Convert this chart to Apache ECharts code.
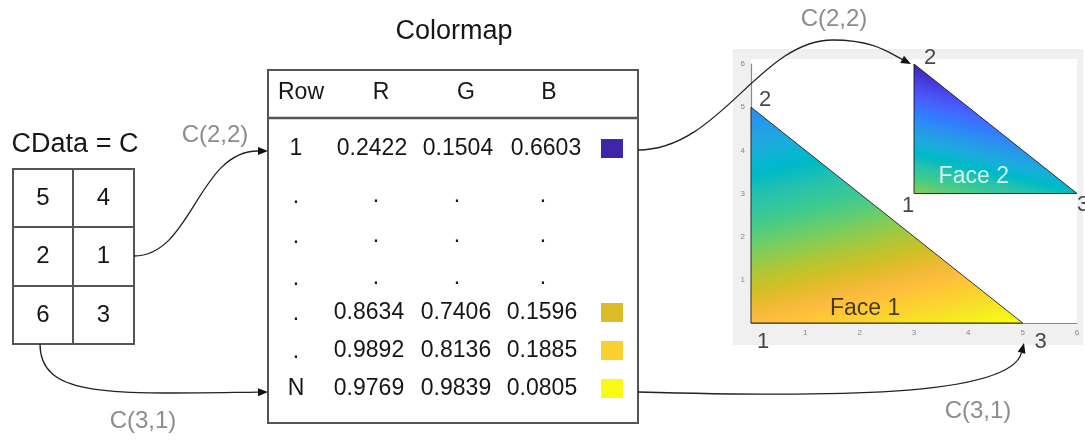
<!DOCTYPE html>
<html><head><meta charset="utf-8">
<script src="https://cdn.jsdelivr.net/npm/echarts@6/dist/echarts.min.js"></script>
<style>html,body{margin:0;padding:0;background:#fff}#chart{width:1085px;height:440px}</style>
</head><body><div id="chart"></div>
<script>
// ---------------- data ----------------
const matrixTitle = 'CData = C';
const colormapTitle = 'Colormap';
const cdataMatrix = [[5, 4], [2, 1], [6, 3]];   // rows = vertex, columns = face
const face1X = [0, 0, 5];
const face1Y = [0, 5, 0];
const face2X = [3, 3, 6];
const face2Y = [3, 6, 3];
const faceNames = ['Face 1', 'Face 2'];
const vertexNames = ['1', '2', '3'];
const tableHeaders = ['Row', 'R', 'G', 'B'];
const rowNames = ['1', '.', '.', '.', '.', '.', 'N'];
const colR = ['0.2422', '.', '.', '.', '0.8634', '0.9892', '0.9769'];
const colG = ['0.1504', '.', '.', '.', '0.7406', '0.8136', '0.9839'];
const colB = ['0.6603', '.', '.', '.', '0.1596', '0.1885', '0.0805'];
const arrowLabels = ['C(2,2)', 'C(3,1)'];
const xTickLabels = ['', '1', '2', '3', '4', '5', '6'];
const yTickLabels = ['', '1', '2', '3', '4', '5', '6'];
// position in the colormap (0..1) of each CData value 1..6, as it appears in the picture
const colormapPosition = [0, 0.3, 0.48, 0.68, 0.84, 1];
const parula = [
[0.2422,0.1504,0.6603],[0.2504,0.1650,0.7076],[0.2578,0.1818,0.7511],[0.2647,0.1978,0.7952],
[0.2706,0.2147,0.8364],[0.2751,0.2342,0.8710],[0.2783,0.2559,0.8991],[0.2803,0.2782,0.9221],
[0.2813,0.3006,0.9414],[0.2810,0.3228,0.9579],[0.2795,0.3447,0.9717],[0.2760,0.3667,0.9829],
[0.2699,0.3892,0.9906],[0.2602,0.4123,0.9952],[0.2440,0.4358,0.9988],[0.2206,0.4603,0.9973],
[0.1963,0.4847,0.9892],[0.1834,0.5074,0.9798],[0.1786,0.5289,0.9682],[0.1764,0.5499,0.9520],
[0.1687,0.5703,0.9359],[0.1540,0.5902,0.9218],[0.1460,0.6091,0.9079],[0.1380,0.6276,0.8973],
[0.1248,0.6459,0.8883],[0.1113,0.6635,0.8763],[0.0952,0.6798,0.8598],[0.0689,0.6948,0.8394],
[0.0297,0.7082,0.8163],[0.0036,0.7203,0.7917],[0.0067,0.7312,0.7660],[0.0433,0.7411,0.7394],
[0.0964,0.7500,0.7120],[0.1408,0.7584,0.6842],[0.1717,0.7670,0.6554],[0.1938,0.7758,0.6251],
[0.2161,0.7843,0.5923],[0.2470,0.7918,0.5567],[0.2906,0.7973,0.5188],[0.3406,0.8008,0.4789],
[0.3909,0.8029,0.4354],[0.4456,0.8024,0.3909],[0.5044,0.7993,0.3480],[0.5616,0.7942,0.3045],
[0.6174,0.7876,0.2612],[0.6720,0.7793,0.2227],[0.7242,0.7698,0.1910],[0.7738,0.7598,0.1646],
[0.8203,0.7498,0.1535],[0.8634,0.7406,0.1596],[0.9035,0.7330,0.1774],[0.9393,0.7288,0.2100],
[0.9728,0.7298,0.2394],[0.9956,0.7434,0.2371],[0.9970,0.7659,0.2199],[0.9952,0.7893,0.2028],
[0.9892,0.8136,0.1885],[0.9807,0.8394,0.1756],[0.9728,0.8660,0.1611],[0.9684,0.8934,0.1466],
[0.9691,0.9213,0.1287],[0.9738,0.9503,0.1024],[0.9778,0.9796,0.0728],[0.9769,0.9839,0.0805]
];

// ---------------- layout / style ----------------
const FONT = '"Liberation Sans", Arial, sans-serif';
const TXT = '#161616', GREY_TXT = '#8c8c8c', BORDER = '#555555';
const G = { left: 751, top: 64, width: 326, height: 259 };
const faceLabelAt = [[2.1, 0.33], [4.1, 3.4]];
const vertexLabelOffsets = [[[12, 19], [14, -7], [18, 19]], [[-6, 12], [16, -6], [6, 11]]];
const faceXs = [face1X, face2X], faceYs = [face1Y, face2Y];

function rgbStr(c) { return 'rgb(' + c.map(v => Math.round(v * 255)).join(',') + ')'; }
const stops = parula.map((c, i) => ({ offset: i / (parula.length - 1), color: rgbStr(c) }));

function txt(text, x, y, size, color, align) {
  return { type: 'text', x: x, y: y, z: 50,
    style: { text: text, fill: color || TXT, font: size + 'px ' + FONT,
      align: align || 'center', verticalAlign: 'middle', textAlign: align || 'center', textVerticalAlign: 'middle' } };
}
function rect(x, y, w, h, fill, stroke, lw, z) {
  return { type: 'rect', z: z == null ? 40 : z, shape: { x: x, y: y, width: w, height: h },
    style: { fill: fill || 'none', stroke: stroke || null, lineWidth: lw || 0 } };
}
function line(x1, y1, x2, y2, lw) {
  return { type: 'line', z: 41, shape: { x1: x1, y1: y1, x2: x2, y2: y2 }, style: { stroke: BORDER, lineWidth: lw || 2 } };
}
function arrow(segs) {
  const out = [];
  const last = segs[segs.length - 1];
  const tip = last[3], c2 = last[2];
  let dx = tip[0] - c2[0], dy = tip[1] - c2[1];
  const L = Math.hypot(dx, dy); dx /= L; dy /= L;
  const hl = 10, hw = 4;
  const base = [tip[0] - dx * hl, tip[1] - dy * hl];
  segs.forEach((s, i) => {
    const end = i === segs.length - 1 ? base : s[3];
    out.push({ type: 'bezierCurve', z: 60,
      shape: { x1: s[0][0], y1: s[0][1], cpx1: s[1][0], cpy1: s[1][1], cpx2: s[2][0], cpy2: s[2][1], x2: end[0], y2: end[1] },
      style: { stroke: '#222', lineWidth: 1.3, fill: null } });
  });
  out.push({ type: 'polygon', z: 61,
    shape: { points: [tip, [base[0] - dy * hw, base[1] + dx * hw], [base[0] + dy * hw, base[1] - dx * hw]] },
    style: { fill: '#111' } });
  return out;
}

const graphics = [];
graphics.push(rect(733, 49, 350, 296, '#f0f0f0', null, 0, -10));
graphics.push(rect(G.left, 59, G.width, G.top + G.height - 59, '#ffffff', null, 0, -9));
graphics.push(txt(colormapTitle, 454, 32, 27));
graphics.push(txt(matrixTitle, 75, 145, 27));
// C matrix
const mX = [13, 73, 134], mY = [169, 227, 286, 344];
graphics.push(rect(mX[0], mY[0], mX[2] - mX[0], mY[3] - mY[0], '#fff', BORDER, 2));
graphics.push(line(mX[1], mY[0], mX[1], mY[3]));
graphics.push(line(mX[0], mY[1], mX[2], mY[1]));
graphics.push(line(mX[0], mY[2], mX[2], mY[2]));
cdataMatrix.forEach((row, r) => row.forEach((v, c) => {
  graphics.push(txt(String(v), (mX[c] + mX[c + 1]) / 2, (mY[r] + mY[r + 1]) / 2, 24));
}));
// colormap table
graphics.push(rect(268, 70, 370, 353, '#fff', BORDER, 2));
graphics.push(line(268, 118, 638, 118, 2.5));
const hdrX = [301, 381, 466, 549];
tableHeaders.forEach((h, i) => graphics.push(txt(h, hdrX[i], 93, 23)));
const rowY = [149, 196, 236, 278, 313, 351, 389];
rowNames.forEach((rn, i) => {
  const isDot = rn === '.';
  graphics.push(txt(rn, 296, rowY[i] + (isDot ? 1 : 0), 23));
  const vals = [colR[i], colG[i], colB[i]];
  const numeric = vals[0] !== '.';
  const xs = i === 0 ? [372, 458, 546] : (numeric ? [369, 456, 542] : [376, 457, 543]);
  vals.forEach((v, j) => graphics.push(txt(v, xs[j], rowY[i], 23)));
  if (numeric) {
    graphics.push(rect(601, rowY[i] - 10, 22, 19, rgbStr(vals.map(Number)), null, 0, 42));
  }
});
// arrows + labels
arrow([[[134, 256], [192, 256], [198, 151], [268, 151]]]).forEach(e => graphics.push(e));
arrow([[[40, 344], [40, 398], [110, 394], [268, 392]]]).forEach(e => graphics.push(e));
arrow([[[638, 150], [720, 150], [760, 40], [833, 40]], [[833, 40], [872, 40], [888, 52], [911, 64]]]).forEach(e => graphics.push(e));
arrow([[[638, 392], [820, 397], [1010, 398], [1024, 343]]]).forEach(e => graphics.push(e));
graphics.push(txt(arrowLabels[0], 215, 135, 24, GREY_TXT));
graphics.push(txt(arrowLabels[1], 143, 421, 24, GREY_TXT));
graphics.push(txt(arrowLabels[0], 834, 19, 24, GREY_TXT));
graphics.push(txt(arrowLabels[1], 978, 411, 24, GREY_TXT));

// ---------------- series ----------------
function renderFace(params, api) {
  const f = api.value(0);
  const xs = faceXs[f], ys = faceYs[f];
  const P = [0, 1, 2].map(i => api.coord([xs[i], ys[i]]));
  const T = [0, 1, 2].map(i => colormapPosition[cdataMatrix[i][f] - 1]);
  const x21 = P[1][0] - P[0][0], y21 = P[1][1] - P[0][1];
  const x31 = P[2][0] - P[0][0], y31 = P[2][1] - P[0][1];
  const c21 = T[1] - T[0], c31 = T[2] - T[0];
  const det = x21 * y31 - y21 * x31;
  const a = (c21 * y31 - y21 * c31) / det;
  const b = (x21 * c31 - c21 * x31) / det;
  const g2 = a * a + b * b;
  const at = v => [P[0][0] + a * (v - T[0]) / g2, P[0][1] + b * (v - T[0]) / g2];
  const p0 = at(0), p1 = at(1);
  const grad = new echarts.graphic.LinearGradient(p0[0], p0[1], p1[0], p1[1], stops, true);
  return { type: 'polygon', shape: { points: P }, style: { fill: grad, stroke: 'rgba(20,20,20,0.85)', lineWidth: 1 } };
}

const vertexLabelData = [];
faceXs.forEach((xs, f) => xs.forEach((x, i) => {
  vertexLabelData.push({ value: [x, faceYs[f][i]], name: vertexNames[i],
    label: { offset: vertexLabelOffsets[f][i] } });
}));
const faceLabelData = faceNames.map((n, f) => ({ value: faceLabelAt[f], name: n,
  label: { color: f === 0 ? TXT : '#ffffff' } }));

const axisCommon = {
  type: 'value', min: 0, max: 6, interval: 1,
  axisLine: { show: true, lineStyle: { color: '#8a8a8a', width: 1.2 } },
  axisTick: { show: false }, splitLine: { show: false },
};

const chart = echarts.init(document.getElementById('chart'), null, { renderer: 'canvas' });
chart.setOption({
  animation: false,
  backgroundColor: '#ffffff',
  grid: { left: G.left, top: G.top, width: G.width, height: G.height, containLabel: false },
  xAxis: Object.assign({}, axisCommon, {
    axisLabel: { fontSize: 8, color: '#888', margin: 6, fontFamily: FONT, formatter: v => xTickLabels[v] } }),
  yAxis: Object.assign({}, axisCommon, {
    axisLabel: { fontSize: 8, color: '#888', margin: 6, fontFamily: FONT, formatter: v => yTickLabels[v] } }),
  graphic: { elements: graphics },
  series: [
    { type: 'custom', renderItem: renderFace, clip: false, z: 3,
      data: faceNames.map((n, i) => [i]), silent: true },
    { type: 'scatter', symbolSize: 0, z: 5, silent: true, data: vertexLabelData,
      label: { show: true, position: 'inside', formatter: '{b}', fontSize: 22, color: TXT, fontFamily: FONT } },
    { type: 'scatter', symbolSize: 0, z: 5, silent: true, data: faceLabelData,
      label: { show: true, position: 'inside', formatter: '{b}', fontSize: 23, fontFamily: FONT } }
  ]
});
</script></body></html>
